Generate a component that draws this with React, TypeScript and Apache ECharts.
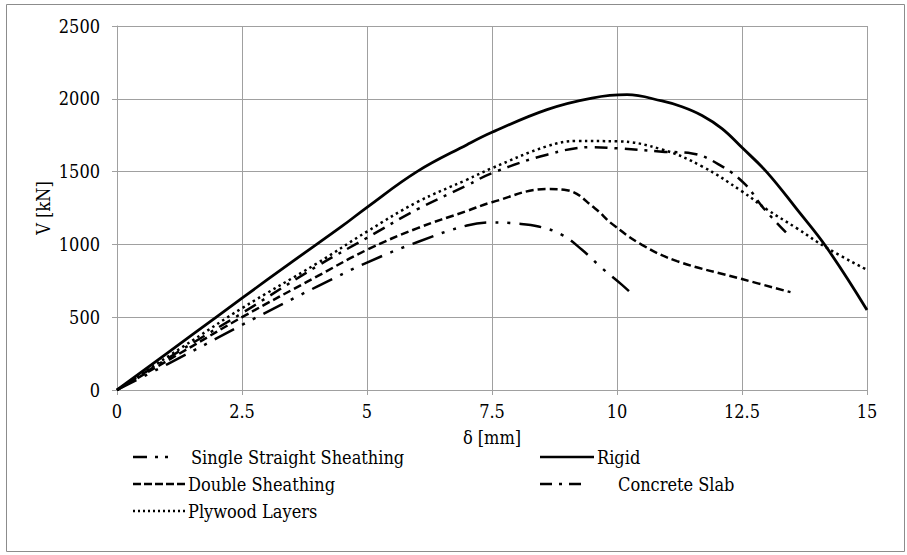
import React, { useEffect, useRef } from "react";
import * as echarts from "echarts";

const xTicks = ["0", "2.5", "5", "7.5", "10", "12.5", "15"];
const yTicks = ["0", "500", "1000", "1500", "2000", "2500"];

const seriesNames = [
  "Single Straight Sheathing",
  "Double Sheathing",
  "Plywood Layers",
  "Rigid",
  "Concrete Slab",
];

const singleStraight: [number, number][] = [
  [0, 0], [1.5, 265], [2.5, 447], [4, 710], [5, 875], [6, 1015], [7, 1130],
  [7.5, 1151], [8, 1143], [8.43, 1123], [8.9, 1066], [9.3, 963], [9.7, 837],
  [10.1, 722], [10.37, 637],
];
const doubleSheathing: [number, number][] = [
  [0, 0], [1.5, 300], [2.5, 500], [4, 780], [5, 963], [6, 1110], [7, 1230],
  [7.5, 1290], [8.6, 1380], [9.0, 1372], [9.55, 1250], [9.9, 1141], [10.5, 997],
  [11.2, 885], [12.5, 762], [13.47, 672],
];
const plywoodLayers: [number, number][] = [
  [0, 0], [1.5, 338], [2.5, 562], [4, 870], [5, 1088], [6, 1290], [7, 1445],
  [7.5, 1524], [8.6, 1674], [9.2, 1710], [10, 1708], [10.9, 1652], [11.7, 1536],
  [12.5, 1364], [13, 1240], [13.6, 1110], [14.2, 975], [15, 825],
];
const rigid: [number, number][] = [
  [0, 0], [1.5, 378], [2.5, 631], [3.5, 880], [4.5, 1125], [5, 1255], [6, 1500],
  [7, 1685], [7.5, 1770], [8.6, 1926], [9.5, 2005], [10.2, 2028], [10.9, 1985],
  [11.3, 1945], [11.7, 1885], [12.1, 1795], [12.5, 1665], [13, 1495], [13.6, 1240],
  [14.2, 975], [15, 550],
];
const concreteSlab: [number, number][] = [
  [0, 0], [1.5, 320], [2.5, 528], [4, 850], [5, 1045], [6, 1240], [7, 1405],
  [7.5, 1490], [8.6, 1616], [9.5, 1668], [10, 1660], [10.9, 1637], [11.5, 1625],
  [12.1, 1536], [12.57, 1410], [12.93, 1249], [13.47, 1050],
];

const seriesData = [singleStraight, doubleSheathing, plywoodLayers, rigid, concreteSlab];

const dashes: (number[] | "solid")[] = [
  [22, 9, 3, 9, 3, 9],
  [8, 4],
  [2.5, 3.5],
  "solid",
  [13, 7, 3, 7],
];
const legendDashes: (number[] | "solid")[] = [
  [14, 8, 3, 7, 3, 100],
  [8, 3],
  [2, 3],
  "solid",
  [12, 7, 3, 7, 12, 100],
];

const FONT = "DejaVu Serif Condensed, DejaVu Serif";
const FS = 18;

export default function App() {
  const ref = useRef<HTMLDivElement>(null);
  useEffect(() => {
    if (!ref.current) return;
    const chart = echarts.init(ref.current, undefined, { renderer: "svg" });

    const legendPos = [
      { x1: 133, x2: 186, y: 457, tx: 191 },
      { x1: 133, x2: 186, y: 484, tx: 188 },
      { x1: 133, x2: 186, y: 511, tx: 188 },
      { x1: 540, x2: 594, y: 457, tx: 597 },
      { x1: 540, x2: 594, y: 484, tx: 618 },
    ];
    const legendGraphics: any[] = [];
    seriesNames.forEach((name, i) => {
      const p = legendPos[i];
      const d = legendDashes[i];
      legendGraphics.push({
        type: "line",
        shape: { x1: p.x1, y1: p.y, x2: p.x2, y2: p.y },
        style: {
          stroke: "#000",
          lineWidth: 2.5,
          lineDash: d === "solid" ? null : d,
        },
        silent: true,
      });
      legendGraphics.push({
        type: "text",
        x: p.tx,
        y: p.y,
        style: {
          text: name,
          fill: "#000",
          fontFamily: FONT,
          fontSize: FS,
          verticalAlign: "middle",
          align: "left",
        },
        silent: true,
      });
    });

    chart.setOption({
      animation: false,
      backgroundColor: "#fff",
      textStyle: { fontFamily: FONT },
      grid: { left: 117, right: 40, top: 26, bottom: 165, containLabel: false },
      xAxis: {
        type: "value",
        min: 0,
        max: 15,
        interval: 2.5,
        name: "δ [mm]",
        nameLocation: "middle",
        nameGap: 38,
        nameTextStyle: { fontFamily: FONT, fontSize: FS, color: "#000" },
        axisLine: { show: true, lineStyle: { color: "#a0a0a0", width: 1 } },
        axisTick: { show: true, length: 5, lineStyle: { color: "#a0a0a0" } },
        axisLabel: {
          fontFamily: FONT,
          fontSize: FS,
          color: "#000",
          margin: 12,
          formatter: (v: number) => {
            const idx = Math.round(v / 2.5);
            return xTicks[idx] ?? String(v);
          },
        },
        splitLine: { show: true, lineStyle: { color: "#a0a0a0", width: 1 } },
      },
      yAxis: {
        type: "value",
        min: 0,
        max: 2500,
        interval: 500,
        name: "V [kN]",
        nameLocation: "middle",
        nameGap: 65,
        nameRotate: 90,
        nameMoveOverlap: false,
        nameTextStyle: { fontFamily: FONT, fontSize: FS, color: "#000" },
        axisLine: { show: true, lineStyle: { color: "#a0a0a0", width: 1 } },
        axisTick: { show: true, length: 5, lineStyle: { color: "#a0a0a0" } },
        axisLabel: {
          fontFamily: FONT,
          fontSize: FS,
          color: "#000",
          margin: 17,
          formatter: (v: number) => {
            const idx = Math.round(v / 500);
            return yTicks[idx] ?? String(v);
          },
        },
        splitLine: { show: true, lineStyle: { color: "#a0a0a0", width: 1 } },
      },
      series: seriesNames.map((name, i) => ({
        name,
        type: "line",
        data: seriesData[i],
        showSymbol: false,
        symbol: "none",
        smooth: 0.4,
        clip: false,
        lineStyle: {
          color: "#000",
          width: i === 3 ? 2.8 : 2.5,
          type: dashes[i],
          cap: "butt",
        },
        z: 3,
      })),
      graphic: [
        {
          type: "rect",
          shape: { x: 6.5, y: 4.5, width: 898, height: 547 },
          style: { fill: "none", stroke: "#8c8c8c", lineWidth: 1 },
          silent: true,
          z: 0,
        },
        ...legendGraphics,
      ],
    });
    return () => chart.dispose();
  }, []);
  return (
    <div
      ref={ref}
      style={{ position: "fixed", left: 0, top: 0, width: 907, height: 555, background: "#fff" }}
    />
  );
}
